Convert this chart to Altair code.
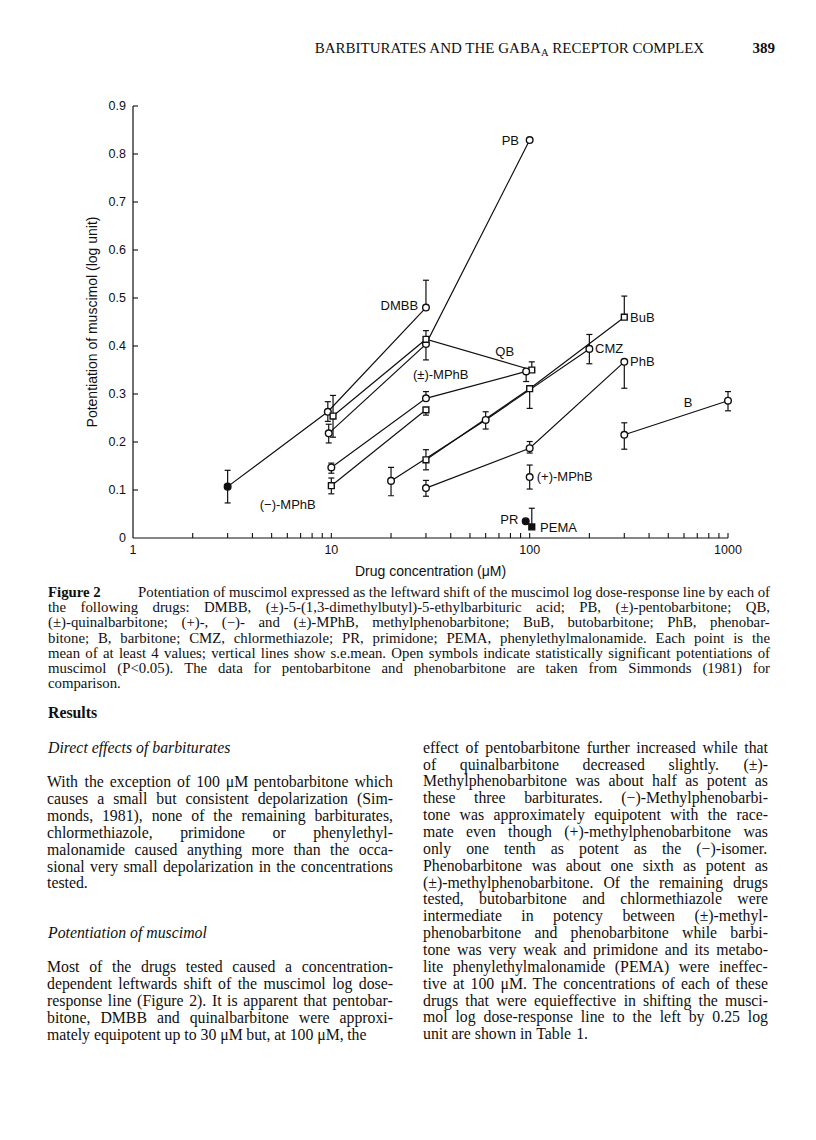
import altair as alt
import pandas as pd

# ------------------------------------------------------------------
# Data: concentration (uM), mean potentiation
# (log unit), lower / upper end of the s.e.mean bar, filled symbol?
# ------------------------------------------------------------------
DMBB_conc = [3, 9.6, 30]
DMBB_val = [0.107, 0.263, 0.480]
DMBB_lo = [0.073, 0.243, 0.480]
DMBB_hi = [0.141, 0.284, 0.537]
DMBB_filled = [True, False, False]

PB_conc = [9.7, 30, 100]
PB_val = [0.218, 0.404, 0.829]
PB_lo = [0.198, 0.371, 0.829]
PB_hi = [0.237, 0.404, 0.829]
PB_filled = [False, False, False]

QB_conc = [10.2, 30, 102.5]
QB_val = [0.254, 0.414, 0.350]
QB_lo = [0.210, 0.414, 0.350]
QB_hi = [0.297, 0.432, 0.367]
QB_filled = [False, False, False]

RAC_MPHB_conc = [10, 30, 96]
RAC_MPHB_val = [0.147, 0.291, 0.347]
RAC_MPHB_lo = [0.135, 0.291, 0.326]
RAC_MPHB_hi = [0.156, 0.305, 0.347]
RAC_MPHB_filled = [False, False, False]

MINUS_MPHB_conc = [10, 30]
MINUS_MPHB_val = [0.109, 0.267]
MINUS_MPHB_lo = [0.092, 0.256]
MINUS_MPHB_hi = [0.125, 0.267]
MINUS_MPHB_filled = [False, False]

CMZ_conc = [20, 60, 200]
CMZ_val = [0.119, 0.246, 0.394]
CMZ_lo = [0.088, 0.227, 0.363]
CMZ_hi = [0.147, 0.263, 0.424]
CMZ_filled = [False, False, False]

BUB_conc = [30, 100, 300]
BUB_val = [0.163, 0.311, 0.460]
BUB_lo = [0.142, 0.270, 0.460]
BUB_hi = [0.184, 0.311, 0.504]
BUB_filled = [False, False, False]

PHB_conc = [30, 100, 300]
PHB_val = [0.104, 0.187, 0.367]
PHB_lo = [0.087, 0.177, 0.312]
PHB_hi = [0.120, 0.201, 0.367]
PHB_filled = [False, False, False]

PLUS_MPHB_conc = [100]
PLUS_MPHB_val = [0.127]
PLUS_MPHB_lo = [0.102]
PLUS_MPHB_hi = [0.152]
PLUS_MPHB_filled = [False]

B_conc = [300, 1000]
B_val = [0.215, 0.286]
B_lo = [0.185, 0.265]
B_hi = [0.240, 0.305]
B_filled = [False, False]

PR_conc = [95.5]
PR_val = [0.035]
PR_lo = [0.035]
PR_hi = [0.035]
PR_filled = [True]

PEMA_conc = [102.5]
PEMA_val = [0.023]
PEMA_lo = [0.023]
PEMA_hi = [0.062]
PEMA_filled = [True]

# series name, symbol, arrays
SERIES = [
    ("DMBB", "circle", DMBB_conc, DMBB_val, DMBB_lo, DMBB_hi, DMBB_filled),
    ("PB", "circle", PB_conc, PB_val, PB_lo, PB_hi, PB_filled),
    ("QB", "square", QB_conc, QB_val, QB_lo, QB_hi, QB_filled),
    ("(±)-MPhB", "circle", RAC_MPHB_conc, RAC_MPHB_val, RAC_MPHB_lo, RAC_MPHB_hi, RAC_MPHB_filled),
    ("(−)-MPhB", "square", MINUS_MPHB_conc, MINUS_MPHB_val, MINUS_MPHB_lo, MINUS_MPHB_hi, MINUS_MPHB_filled),
    ("CMZ", "circle", CMZ_conc, CMZ_val, CMZ_lo, CMZ_hi, CMZ_filled),
    ("BuB", "square", BUB_conc, BUB_val, BUB_lo, BUB_hi, BUB_filled),
    ("PhB", "circle", PHB_conc, PHB_val, PHB_lo, PHB_hi, PHB_filled),
    ("(+)-MPhB", "circle", PLUS_MPHB_conc, PLUS_MPHB_val, PLUS_MPHB_lo, PLUS_MPHB_hi, PLUS_MPHB_filled),
    ("B", "circle", B_conc, B_val, B_lo, B_hi, B_filled),
    ("PR", "circle", PR_conc, PR_val, PR_lo, PR_hi, PR_filled),
    ("PEMA", "square", PEMA_conc, PEMA_val, PEMA_lo, PEMA_hi, PEMA_filled),
]

# curve labels (anchor in data coordinates)
LABEL_RIGHT_text = ["DMBB", "PB", "PR"]
LABEL_RIGHT_conc = [27.4, 88.4, 87.7]
LABEL_RIGHT_val = [0.483, 0.827, 0.038]

LABEL_LEFT_text = ["CMZ", "BuB", "PhB", "(+)-MPhB", "PEMA", "(±)-MPhB"]
LABEL_LEFT_conc = [213.7, 320.8, 320.8, 108.6, 112.8, 25.8]
LABEL_LEFT_val = [0.393, 0.459, 0.367, 0.127, 0.021, 0.340]

LABEL_CENTER_text = ["QB", "B", "(−)-MPhB"]
LABEL_CENTER_conc = [74.8, 629, 6.03]
LABEL_CENTER_val = [0.388, 0.281, 0.068]

# axes
X_DOMAIN = [1, 1000]
Y_DOMAIN = [0, 0.9]
X_TICK_LABEL_VALUES = [1, 10, 100, 1000]
X_TICK_LABEL_TEXT = ["1", "10", "100", "1000"]
X_MINOR_TICKS = [2, 3, 4, 5, 6, 7, 8, 9, 10, 20, 30, 40, 50, 60, 70, 80, 90,
                 100, 200, 300, 400, 500, 600, 700, 800, 900, 1000]
Y_TICKS = [0, 0.1, 0.2, 0.3, 0.4, 0.5, 0.6, 0.7, 0.8, 0.9]
Y_TICK_TEXT = ["0", "0.1", "0.2", "0.3", "0.4", "0.5", "0.6", "0.7", "0.8", "0.9"]
X_TITLE = "Drug concentration (μM)"
Y_TITLE = "Potentiation of muscimol (log unit)"

# ------------------------------------------------------------------
# Page text
# ------------------------------------------------------------------
HEADER_LEFT = "BARBITURATES AND THE GABA"
HEADER_SUB = "A"
HEADER_RIGHT = "RECEPTOR COMPLEX"
PAGE_NO = "389"

CAPTION_LABEL = "Figure 2"
CAPTION_LINES = [
    "Potentiation of muscimol expressed as the leftward shift of the muscimol log dose-response line by each of",
    "the following drugs: DMBB, (±)-5-(1,3-dimethylbutyl)-5-ethylbarbituric acid; PB, (±)-pentobarbitone; QB,",
    "(±)-quinalbarbitone; (+)-, (−)- and (±)-MPhB, methylphenobarbitone; BuB, butobarbitone; PhB, phenobar-",
    "bitone; B, barbitone; CMZ, chlormethiazole; PR, primidone; PEMA, phenylethylmalonamide. Each point is the",
    "mean of at least 4 values; vertical lines show s.e.mean. Open symbols indicate statistically significant potentiations of",
    "muscimol (P<0.05). The data for pentobarbitone and phenobarbitone are taken from Simmonds (1981) for",
    "comparison.",
]

RESULTS_HEAD = "Results"
SUBHEAD_1 = "Direct effects of barbiturates"
SUBHEAD_2 = "Potentiation of muscimol"

LEFT_PARA_1 = [
    "With the exception of 100 μM pentobarbitone which",
    "causes a small but consistent depolarization (Sim-",
    "monds, 1981), none of the remaining barbiturates,",
    "chlormethiazole, primidone or phenylethyl-",
    "malonamide caused anything more than the occa-",
    "sional very small depolarization in the concentrations",
    "tested.",
]
LEFT_PARA_2 = [
    "Most of the drugs tested caused a concentration-",
    "dependent leftwards shift of the muscimol log dose-",
    "response line (Figure 2). It is apparent that pentobar-",
    "bitone, DMBB and quinalbarbitone were approxi-",
    "mately equipotent up to 30 μM but, at 100 μM, the",
]
RIGHT_PARA = [
    "effect of pentobarbitone further increased while that",
    "of quinalbarbitone decreased slightly. (±)-",
    "Methylphenobarbitone was about half as potent as",
    "these three barbiturates. (−)-Methylphenobarbi-",
    "tone was approximately equipotent with the race-",
    "mate even though (+)-methylphenobarbitone was",
    "only one tenth as potent as the (−)-isomer.",
    "Phenobarbitone was about one sixth as potent as",
    "(±)-methylphenobarbitone. Of the remaining drugs",
    "tested, butobarbitone and chlormethiazole were",
    "intermediate in potency between (±)-methyl-",
    "phenobarbitone and phenobarbitone while barbi-",
    "tone was very weak and primidone and its metabo-",
    "lite phenylethylmalonamide (PEMA) were ineffec-",
    "tive at 100 μM. The concentrations of each of these",
    "drugs that were equieffective in shifting the musci-",
    "mol log dose-response line to the left by 0.25 log",
    "unit are shown in Table 1.",
]

# ------------------------------------------------------------------
# Layout constants
# ------------------------------------------------------------------
W, H = 595, 432
PAD_L, PAD_T = 125, 98
ORX, ORY = 8 + PAD_L, 8 + PAD_T      # page position of plot origin
INK = "#101010"
SANS = "Liberation Sans"
SERIF = "Liberation Serif"

# Times-compatible advance widths (1/1000 em) for text justification
TW = {' ': 250, '!': 333, '"': 408, '%': 833, '&': 778, "'": 333, '(': 333,
      ')': 333, '*': 500, '+': 564, ',': 250, '-': 333, '.': 250, '/': 278, ':': 278,
      ';': 278, '<': 564, '=': 564, '>': 564, '?': 444, '±': 549, '−': 564, 'μ': 500,
      'A': 722, 'B': 667, 'C': 667, 'D': 722, 'E': 611, 'F': 556, 'G': 722, 'H': 722,
      'I': 333, 'J': 389, 'K': 722, 'L': 611, 'M': 889, 'N': 722, 'O': 722, 'P': 556,
      'Q': 722, 'R': 667, 'S': 556, 'T': 611, 'U': 722, 'V': 722, 'W': 944, 'X': 722,
      'Y': 722, 'Z': 611,
      'a': 444, 'b': 500, 'c': 444, 'd': 500, 'e': 444, 'f': 333, 'g': 500, 'h': 500,
      'i': 278, 'j': 278, 'k': 500, 'l': 278, 'm': 778, 'n': 500, 'o': 500, 'p': 500,
      'q': 500, 'r': 333, 's': 389, 't': 278, 'u': 500, 'v': 500, 'w': 722, 'x': 500,
      'y': 500, 'z': 444}
for d in "0123456789":
    TW[d] = 500


def text_width(s, size):
    return sum(TW.get(c, 500) for c in s) / 1000.0 * size


def lay_paragraph(lines, x0, x1, y0, dy, size, first_x=None, min_gap=0.2):
    rows = []
    for i, line in enumerate(lines):
        words = line.split()
        y = y0 + i * dy
        start = x0 if (i > 0 or first_x is None) else first_x
        target = x1 - start
        last = i == len(lines) - 1
        fs = size
        if not last and len(words) > 1:
            tight = sum(text_width(w, 1) for w in words) + (len(words) - 1) * min_gap
            if tight * fs > target:
                fs = target / tight
        widths = [text_width(w, fs) for w in words]
        if not last and len(words) > 1:
            gap = (target - sum(widths)) / (len(words) - 1)
        else:
            gap = 0.25 * fs
        x = start
        for w, ww in zip(words, widths):
            rows.append({"px": x - ORX, "py": y - ORY, "t": w, "fs": fs})
            x += ww + gap
    return rows


# ------------------------------------------------------------------
# Data tables
# ------------------------------------------------------------------
pts, bars, caps = [], [], []
for name, shape, conc, val, lo, hi, filled in SERIES:
    for c, v, l, h, f in zip(conc, val, lo, hi, filled):
        pts.append({"series": name, "conc": c, "val": v, "shape": shape,
                    "fillc": INK if f else "white",
                    "sz": 44 if shape == "circle" else 34})
        if h - l > 1e-6:
            bars.append({"conc": c, "lo": l, "hi": h})
        if h - v > 1e-6:
            caps.append({"conc": c, "cap": h})
        if v - l > 1e-6:
            caps.append({"conc": c, "cap": l})
pts = pd.DataFrame(pts)
bars = pd.DataFrame(bars)
caps = pd.DataFrame(caps)

xscale = alt.Scale(type="log", domain=X_DOMAIN)
yscale = alt.Scale(domain=Y_DOMAIN)


def X(field):
    return alt.X(field, scale=xscale, axis=None)


def Y(field):
    return alt.Y(field, scale=yscale, axis=None)


# axis lines
xdom = pd.DataFrame({"a": [X_DOMAIN[0]], "b": [X_DOMAIN[1]], "y": [Y_DOMAIN[0]]})
ydom = pd.DataFrame({"x": [X_DOMAIN[0]], "a": [Y_DOMAIN[0]], "b": [Y_DOMAIN[1]]})
xaxis_line = alt.Chart(xdom).mark_rule(color=INK, strokeWidth=1.2).encode(
    x=X("a:Q"), x2="b:Q", y=Y("y:Q"))
yaxis_line = alt.Chart(ydom).mark_rule(color=INK, strokeWidth=1.2).encode(
    y=Y("a:Q"), y2="b:Q", x=X("x:Q"))

# inward ticks
xt = pd.DataFrame({"v": X_MINOR_TICKS, "y0": 0.0, "y1": 0.0105})
xticks = alt.Chart(xt).mark_rule(color=INK, strokeWidth=1.1).encode(
    x=X("v:Q"), y=Y("y0:Q"), y2="y1:Q")
yt = pd.DataFrame({"v": Y_TICKS[1:], "x0": 1.0, "x1": 1.06})
yticks = alt.Chart(yt).mark_rule(color=INK, strokeWidth=1.1).encode(
    y=Y("v:Q"), x=X("x0:Q"), x2="x1:Q")

# tick labels
xl = pd.DataFrame({"v": X_TICK_LABEL_VALUES, "t": X_TICK_LABEL_TEXT, "y": 0.0})
xlabels = alt.Chart(xl).mark_text(font=SANS, fontSize=12.5, color=INK, align="center",
                                  baseline="middle", dy=12).encode(
    x=X("v:Q"), y=Y("y:Q"), text="t:N")
yl = pd.DataFrame({"v": Y_TICKS, "t": Y_TICK_TEXT, "x": 1.0})
ylabels = alt.Chart(yl).mark_text(font=SANS, fontSize=12.5, color=INK, align="right",
                                  baseline="middle", dx=-7).encode(
    y=Y("v:Q"), x=X("x:Q"), text="t:N")

lines = alt.Chart(pts).mark_line(color=INK, strokeWidth=1.2).encode(
    x=X("conc:Q"), y=Y("val:Q"), detail="series:N", order="conc:Q")

err = alt.Chart(bars).mark_rule(color=INK, strokeWidth=1.2).encode(
    x=X("conc:Q"), y=Y("lo:Q"), y2="hi:Q")

cap = alt.Chart(caps).mark_tick(color=INK, orient="horizontal", size=6,
                                thickness=1.2, opacity=1).encode(
    x=X("conc:Q"), y=Y("cap:Q"))

points = alt.Chart(pts).mark_point(stroke=INK, strokeWidth=1.4, opacity=1,
                                   fillOpacity=1).encode(
    x=X("conc:Q"), y=Y("val:Q"),
    shape=alt.Shape("shape:N", scale=None),
    fill=alt.Fill("fillc:N", scale=None),
    size=alt.Size("sz:Q", scale=None),
)


def label_layer(texts, conc, val, align):
    df = pd.DataFrame({"t": texts, "conc": conc, "val": val})
    return alt.Chart(df).mark_text(font=SANS, fontSize=13, color=INK, align=align,
                                   baseline="middle").encode(
        x=X("conc:Q"), y=Y("val:Q"), text="t:N")


labels = [
    label_layer(LABEL_RIGHT_text, LABEL_RIGHT_conc, LABEL_RIGHT_val, "right"),
    label_layer(LABEL_LEFT_text, LABEL_LEFT_conc, LABEL_LEFT_val, "left"),
    label_layer(LABEL_CENTER_text, LABEL_CENTER_conc, LABEL_CENTER_val, "center"),
]


# ------------------------------------------------------------------
# Page text layers (pixel positions relative to plot origin)
# ------------------------------------------------------------------
def text_layer(rows, size=None, weight="normal", style="normal", align="left",
               font=SERIF, angle=0):
    df = pd.DataFrame(rows)
    kw = dict(font=font, fontWeight=weight, fontStyle=style, color=INK,
              align=align, baseline="middle", angle=angle)
    if size is not None:
        kw["fontSize"] = size
    enc = dict(x=alt.X("px:Q", scale=None, axis=None),
               y=alt.Y("py:Q", scale=None, axis=None),
               text="t:N")
    if size is None:
        enc["size"] = alt.Size("fs:Q", scale=None)
    return alt.Chart(df).mark_text(**kw).encode(**enc)


title_rows_x = [{"px": 430.5 - ORX, "py": 572 - ORY, "t": X_TITLE}]
title_rows_y = [{"px": 93 - ORX, "py": 322 - ORY, "t": Y_TITLE}]

HS = 15
w_left = text_width(HEADER_LEFT, HS)
anchor = 312 + w_left
w_sub = text_width(HEADER_SUB, 10.5)
header_l_rows = [{"px": anchor - ORX, "py": 48 - ORY, "t": HEADER_LEFT}]
sub_rows = [{"px": anchor + 0.3 - ORX, "py": 53 - ORY, "t": HEADER_SUB}]
header_r_rows = [{"px": anchor + w_sub + 0.25 * HS + 0.3 - ORX, "py": 48 - ORY,
                  "t": HEADER_RIGHT}]
page_rows = [{"px": 775 - ORX, "py": 48 - ORY, "t": PAGE_NO}]

CS = 14.8
cap_rows = lay_paragraph(CAPTION_LINES, 48, 770, 593, 15.2, CS, first_x=138,
                         min_gap=0.18)
figlabel_rows = [{"px": 48 - ORX, "py": 593 - ORY, "t": CAPTION_LABEL}]

BS = 15.8
body_rows = (lay_paragraph(LEFT_PARA_1, 47, 393, 782, 16.9, BS)
             + lay_paragraph(LEFT_PARA_2, 47, 393, 967, 16.9, BS)
             + lay_paragraph(RIGHT_PARA, 423, 768, 747.7, 16.86, BS))
results_rows = [{"px": 48 - ORX, "py": 713 - ORY, "t": RESULTS_HEAD}]
italic_rows = [{"px": 48 - ORX, "py": 748 - ORY, "t": SUBHEAD_1},
               {"px": 48 - ORX, "py": 933 - ORY, "t": SUBHEAD_2}]

chart = alt.layer(
    err, cap, xticks, yticks, xaxis_line, yaxis_line, lines, points,
    xlabels, ylabels, *labels,
    text_layer(title_rows_x, 14, font=SANS, align="center"),
    text_layer(title_rows_y, 14, font=SANS, align="center", angle=270),
    text_layer(header_l_rows, HS, align="right"),
    text_layer(sub_rows, 10.5),
    text_layer(header_r_rows, HS),
    text_layer(page_rows, HS, weight="bold", align="right"),
    text_layer(cap_rows),
    text_layer(figlabel_rows, CS, weight="bold"),
    text_layer(body_rows),
    text_layer(results_rows, BS, weight="bold"),
    text_layer(italic_rows, BS, style="italic"),
).properties(
    width=W, height=H,
    autosize=alt.AutoSizeParams(type="none"),
    padding={"left": PAD_L, "top": PAD_T, "right": 800 - PAD_L - W,
             "bottom": 1124 - PAD_T - H},
    background="white",
).configure_view(stroke=None)

chart.save("out.html", embed_options={"renderer": "svg", "actions": False})
